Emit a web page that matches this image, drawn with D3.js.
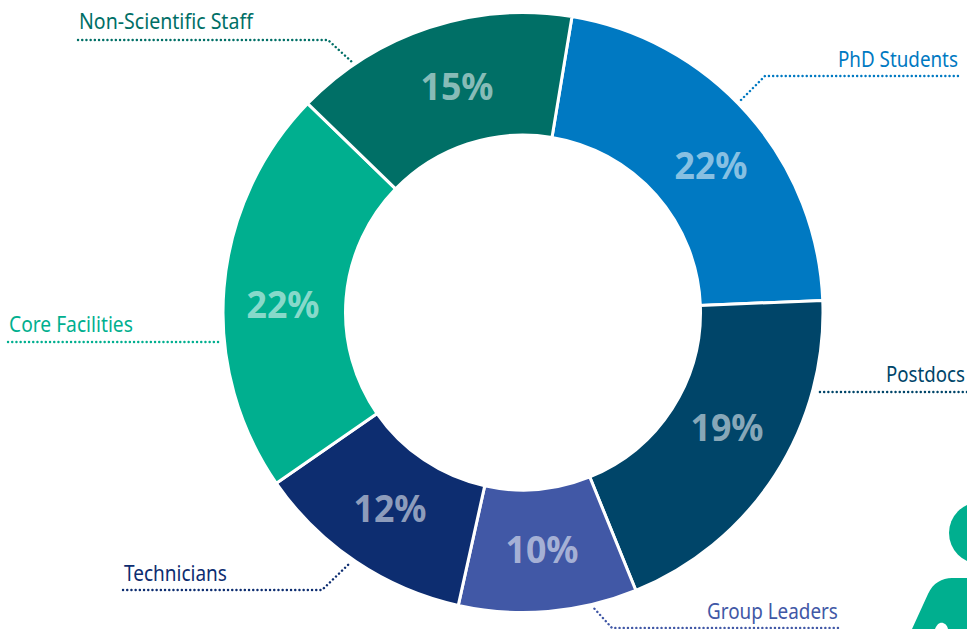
<!DOCTYPE html>
<html><head><meta charset="utf-8">
<script src="https://cdn.jsdelivr.net/npm/d3@7/dist/d3.min.js"></script>
<style>html,body{margin:0;padding:0;background:#fff}svg{display:block}text{font-family:"Noto Sans",sans-serif}</style>
</head><body><svg id="c" width="967" height="629"></svg>
<script>
const categories=["PhD Students","Postdocs","Group Leaders","Technicians","Core Facilities","Non-Scientific Staff"];
const shares=[21.75,19.5,9.6,11.9,21.9,15.35];
const percentLabels=["22%","19%","10%","12%","22%","15%"];
const colors=["#0079c2","#004569","#4158a6","#0d2d70","#00af8f","#006f66"];
const W=967,H=629,cx=523,cy=312.5,R=300,r=177.5,startDeg=9.4;
const svg=d3.select("#c");
const pie=d3.pie().value(d=>d.v).sort(null).startAngle(startDeg*Math.PI/180).endAngle((startDeg+360)*Math.PI/180);
const arc=d3.arc().innerRadius(r).outerRadius(R);
const rows=categories.map((c,i)=>({c,v:shares[i],p:percentLabels[i],col:colors[i]}));
const g=svg.append("g").attr("transform",`translate(${cx},${cy})`);
const arcs=pie(rows);
g.selectAll("path").data(arcs).join("path").attr("d",arc).attr("fill",d=>d.data.col).attr("stroke","#fff").attr("stroke-width",3);

// label layout: percent label centre, category label left edge and baseline, leader route
const pctXY=[[711,165],[727,427],[542,549],[390,508],[283,304],[457,86]];
const labelXY=[[838,67],[886,382],[707,619],[124,581],[9,332],[79,29]];
const labelW=[120,79,131,103,124,174];
const leaders=[[[958,76],[765,76],[739,102]],[[967,392],[817,392]],[[838,628],[612,628],[592,606]],[[123,590],[322,590],[350,563]],[[8,342],[219,342]],[[78,40],[328,40],[352,62]]];

// condense a text horizontally to a target width, keeping its box true to what is drawn
function condense(sel,xy,width,anchorMid){
  sel.each(function(d,i){
    const t=d3.select(this), n=this.getComputedTextLength(), s=width(i)/n;
    t.attr("transform",`translate(${xy[i][0]},${xy[i][1]}) scale(${s},1)`);
  });
}
svg.selectAll("text.pct").data(arcs).join("text").attr("class","pct")
 .attr("text-anchor","middle").attr("dominant-baseline","central")
 .attr("font-size",37).attr("font-weight",700)
 .attr("fill","#fff").attr("fill-opacity",0.55).text(d=>d.data.p)
 .call(condense,pctXY,()=>73);

const line=d3.line();
svg.selectAll("path.lead").data(arcs).join("path").attr("class","lead")
 .attr("d",(d,i)=>line(leaders[i])).attr("fill","none").attr("stroke",d=>d.data.col)
 .attr("stroke-width",2.4).attr("stroke-linecap","round").attr("stroke-dasharray","0.1 4.1");

svg.selectAll("text.cat").data(arcs).join("text").attr("class","cat")
 .attr("font-size",22).attr("fill",d=>d.data.col).text(d=>d.data.c)
 .call(condense,labelXY,i=>labelW[i]);

// cropped person pictogram at lower right
const person=svg.append("g").attr("fill","#00af8f");
person.append("circle").attr("cx",979.8).attr("cy",533).attr("r",30.8);
person.append("path").attr("d","M912 629 L928 594 C933 583 942 578 952 578 L967 578 L967 629 L948 629 C947 624 943 622 940 623 C937 624 936 627 935 629 Z");
</script></body></html>
